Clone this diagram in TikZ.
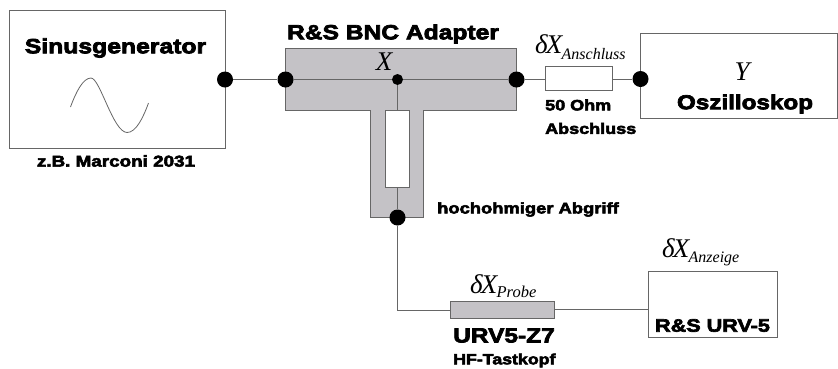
\documentclass[tikz,border=0pt]{standalone}
\usepackage{fontspec}
\setmainfont{Liberation Sans}
\newfontfamily\blk[FakeBold=3.6,FakeStretch=1.2]{Liberation Sans Bold}
\newfontfamily\mth{Liberation Serif Italic}
\definecolor{lin}{HTML}{666666}
\definecolor{gf}{HTML}{C4C2C6}
\tikzset{
  px/.style={x=1pt,y=-1pt},
  boxx/.style={draw=lin,line width=1pt,fill=white,inner sep=0pt,minimum width=#1},
  dotb/.style={circle,fill=black,inner sep=0pt,minimum size=16pt},
  dots/.style={circle,fill=black,inner sep=0pt,minimum size=11pt},
  wire/.style={draw=lin,line width=1pt},
  lab/.style={inner sep=0pt,font=\blk\fontsize{#1}{#1}\selectfont},
  sym/.style={inner sep=0pt,font=\mth\fontsize{#1}{#1}\selectfont},
}
\begin{document}
\begin{tikzpicture}[px]
\useasboundingbox (0,0) rectangle (838,368);
\fill[white] (0,0) rectangle (838,368);
% T-shaped adapter body
\draw[draw=lin,line width=1pt,fill=gf] (285,48) -- (516.5,48) -- (516.5,110) -- (423.5,110) -- (423.5,217) -- (370.5,217) -- (370.5,110) -- (285,110) -- cycle;
% boxes
\node[boxx=216pt,minimum height=138pt] (gen) at (117,79) {};
\node[boxx=197pt,minimum height=85pt] (osz) at (738.5,75.5) {};
\node[boxx=129pt,minimum height=66pt] (urv) at (712.5,304) {};
\node[boxx=67pt,minimum height=24pt] (term) at (579,78) {};
\node[boxx=23.5pt,minimum height=77pt] (res) at (397.5,148.5) {};
\node[boxx=104pt,minimum height=17pt,fill=gf] (probe) at (502,309.5) {};
% junctions
\node[dotb] (j1) at (225,79.5) {};
\node[dotb] (j2) at (285.5,79.5) {};
\node[dots] (jx) at (397.5,79.5) {};
\node[dotb] (j3) at (516.5,79.5) {};
\node[dotb] (j4) at (640.5,79) {};
\node[dotb] (j5) at (397.5,217.5) {};
\coordinate (corner) at (397.5,310);
\coordinate (urvin) at (648,309);
% connectors
\draw[wire] (j1) -- (j2);
\draw[wire] (j2) -- (jx);
\draw[wire] (jx) -- (j3);
\draw[wire] (j3) -- (j3 -| term.west);
\draw[wire] (term.east |- j4) -- (j4);
\draw[wire] (jx) -- (res);
\draw[wire] (res) -- (j5);
\draw[wire] (j5) -- (corner) -- (corner -| probe.west);
\draw[wire] (urvin -| probe.east) -- (urvin);
% sine
\draw[draw=lin,line width=0.8pt] (70.5,107) .. controls (76,92) and (83,78) .. (91,78) .. controls (100,78) and (113,132) .. (127,132.5) .. controls (136,132.5) and (143,118) .. (148.5,103);
% labels
\node[lab=20.6] (t1) at (115.5,48) {Sinusgenerator};
\node[lab=15.7] (t2) at (116,161) {z.B. Marconi 2031};
\node[lab=20.5] (t3) at (393,34) {R\&S BNC Adapter};
\node[lab=20.2] (t4) at (745,104) {Oszilloskop};
\node[lab=15,anchor=west] (t5) at (545,105) {50 Ohm};
\node[lab=15,anchor=west] (t6) at (545,128.5) {Abschluss};
\node[lab=15.3,anchor=west] (t7) at (437,209.5) {hochohmiger Abgriff};
\node[lab=20.4,anchor=west] (t8) at (453,335.5) {URV5-Z7};
\node[lab=14.8,anchor=west] (t9) at (453,360.5) {HF-Tastkopf};
\node[lab=18,anchor=center] (t10) at (712.5,325.5) {R\&S URV-5};
\node[sym=27] (sx) at (384,62) {X};
\node[sym=27] (sy) at (742,72) {Y};
\node[sym=27,anchor=base west] (d1) at (535,53) {δ\hspace{-2pt}X};
\node[sym=16,anchor=base west] (d1s) at (d1.base east) {\hspace{-1pt}\raisebox{-6pt}{Anschluss}};
\node[sym=27,anchor=base west] (d2) at (470,293) {δ\hspace{-2pt}X};
\node[sym=16.5,anchor=base west] (d2s) at (d2.base east) {\hspace{-1pt}\raisebox{-4pt}{Probe}};
\node[sym=27,anchor=base west] (d3) at (662,257) {δ\hspace{-2pt}X};
\node[sym=16,anchor=base west] (d3s) at (d3.base east) {\hspace{-1pt}\raisebox{-5.5pt}{Anzeige}};
\end{tikzpicture}
\end{document}
